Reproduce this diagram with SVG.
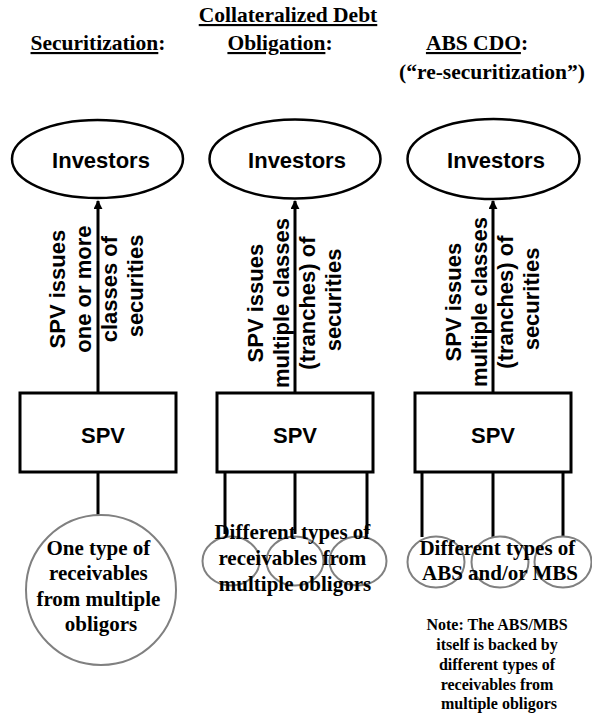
<svg xmlns="http://www.w3.org/2000/svg" width="592" height="715" viewBox="0 0 592 715">
<style>
.hd{font-family:"Liberation Serif","Times New Roman",serif;font-weight:bold;font-size:21.5px;fill:#000;text-anchor:middle}
.ul{text-decoration:underline}
.sans{font-family:"Liberation Sans",Arial,sans-serif;font-weight:bold;font-size:22px;fill:#000;text-anchor:middle}
.lbl{font-family:"Liberation Sans",Arial,sans-serif;font-weight:bold;font-size:22px;fill:#000;text-anchor:middle}
.ser{font-family:"Liberation Serif","Times New Roman",serif;font-weight:bold;font-size:21px;fill:#000;text-anchor:middle}
.note{font-family:"Liberation Serif","Times New Roman",serif;font-weight:bold;font-size:16px;fill:#000;text-anchor:middle}
.ell{fill:#fff;stroke:#000;stroke-width:2.5}
.box{fill:#fff;stroke:#000;stroke-width:3}
.gc{fill:none;stroke:#808080;stroke-width:2}
.ln{stroke:#000;stroke-width:3;fill:none}
</style>
<defs>
<marker id="ah" viewBox="0 0 10 10" refX="9" refY="5" markerWidth="3" markerHeight="3" orient="auto" markerUnits="strokeWidth">
<path d="M0,0 L10,5 L0,10 z" fill="#000"/>
</marker>
</defs>

<g id="headers">
<text class="hd" x="288" y="22"><tspan class="ul">Collateralized Debt</tspan></text>
<text class="hd" x="98" y="50"><tspan class="ul">Securitization</tspan>:</text>
<text class="hd" x="280" y="50"><tspan class="ul">Obligation</tspan>:</text>
<text class="hd" x="477" y="50"><tspan class="ul">ABS CDO</tspan>:</text>
<text class="hd" x="492" y="79">(“re-securitization”)</text>
</g>

<g id="connectors">
<line class="ln" x1="98" y1="393" x2="98" y2="201" marker-end="url(#ah)"/>
<line class="ln" x1="295" y1="393" x2="295" y2="201" marker-end="url(#ah)"/>
<line class="ln" x1="493" y1="393" x2="493" y2="201" marker-end="url(#ah)"/>
<line class="ln" x1="98" y1="472" x2="98" y2="515"/>
<line class="ln" x1="225" y1="472" x2="225" y2="534"/>
<line class="ln" x1="295" y1="472" x2="295" y2="534"/>
<line class="ln" x1="367" y1="472" x2="367" y2="534"/>
<line class="ln" x1="422" y1="472" x2="422" y2="537"/>
<line class="ln" x1="493" y1="472" x2="493" y2="537"/>
<line class="ln" x1="563" y1="472" x2="563" y2="537"/>
</g>

<g id="investors1">
<ellipse class="ell" cx="97.5" cy="159" rx="85.5" ry="39"/>
<text class="sans" x="101" y="168">Investors</text>
</g>
<g id="investors2">
<ellipse class="ell" cx="295" cy="159" rx="85.5" ry="39.5"/>
<text class="sans" x="297" y="168">Investors</text>
</g>
<g id="investors3">
<ellipse class="ell" cx="493.5" cy="159" rx="86" ry="40"/>
<text class="sans" x="496" y="168">Investors</text>
</g>

<g id="label1">
<text class="lbl" transform="translate(65,286) rotate(-90)">
<tspan x="0" y="0">SPV issues</tspan>
<tspan x="0" y="26">one or more</tspan>
<tspan x="0" y="52">classes of</tspan>
<tspan x="0" y="78">securities</tspan>
</text>
</g>
<g id="label2">
<text class="lbl" transform="translate(263,300) rotate(-90)">
<tspan x="0" y="0">SPV issues</tspan>
<tspan x="0" y="26">multiple classes</tspan>
<tspan x="0" y="52">(tranches) of</tspan>
<tspan x="0" y="78">securities</tspan>
</text>
</g>
<g id="label3">
<text class="lbl" transform="translate(461,299) rotate(-90)">
<tspan x="0" y="0">SPV issues</tspan>
<tspan x="0" y="26">multiple classes</tspan>
<tspan x="0" y="52">(tranches) of</tspan>
<tspan x="0" y="78">securities</tspan>
</text>
</g>

<g id="spv1">
<rect class="box" x="20" y="393" width="156" height="79"/>
<text class="sans" x="103" y="443">SPV</text>
</g>
<g id="spv2">
<rect class="box" x="217" y="393" width="156" height="79"/>
<text class="sans" x="295" y="443">SPV</text>
</g>
<g id="spv3">
<rect class="box" x="415" y="393" width="156" height="79"/>
<text class="sans" x="493" y="443">SPV</text>
</g>

<g id="receivables1">
<circle class="gc" cx="101" cy="590" r="75"/>
<text class="ser">
<tspan x="101" y="555">One type of</tspan>
<tspan x="101" y="580">receivables</tspan>
<tspan x="101" y="606">from multiple</tspan>
<tspan x="101" y="631">obligors</tspan>
</text>
</g>

<g id="receivables2">
<ellipse class="gc" cx="231" cy="561" rx="28.5" ry="24.5"/>
<ellipse class="gc" cx="295" cy="561" rx="28.5" ry="24.5"/>
<ellipse class="gc" cx="358" cy="561" rx="28.5" ry="24.5"/>
<text class="ser">
<tspan x="295" y="539">Different types of</tspan>
<tspan x="295" y="565">receivables from</tspan>
<tspan x="295" y="591">multiple obligors</tspan>
</text>
</g>

<g id="absmbs3">
<ellipse class="gc" cx="436" cy="562" rx="28.5" ry="25.5"/>
<ellipse class="gc" cx="500" cy="562" rx="28.5" ry="25.5"/>
<ellipse class="gc" cx="563" cy="562" rx="28.5" ry="25.5"/>
<text class="ser">
<tspan x="500" y="555">Different types of</tspan>
<tspan x="500" y="580">ABS and/or MBS</tspan>
</text>
</g>

<g id="note">
<text class="note">
<tspan x="499" y="630">Note: The ABS/MBS</tspan>
<tspan x="499" y="650">itself is backed by</tspan>
<tspan x="499" y="670">different types of</tspan>
<tspan x="499" y="690">receivables from</tspan>
<tspan x="499" y="709">multiple obligors</tspan>
</text>
</g>
</svg>
